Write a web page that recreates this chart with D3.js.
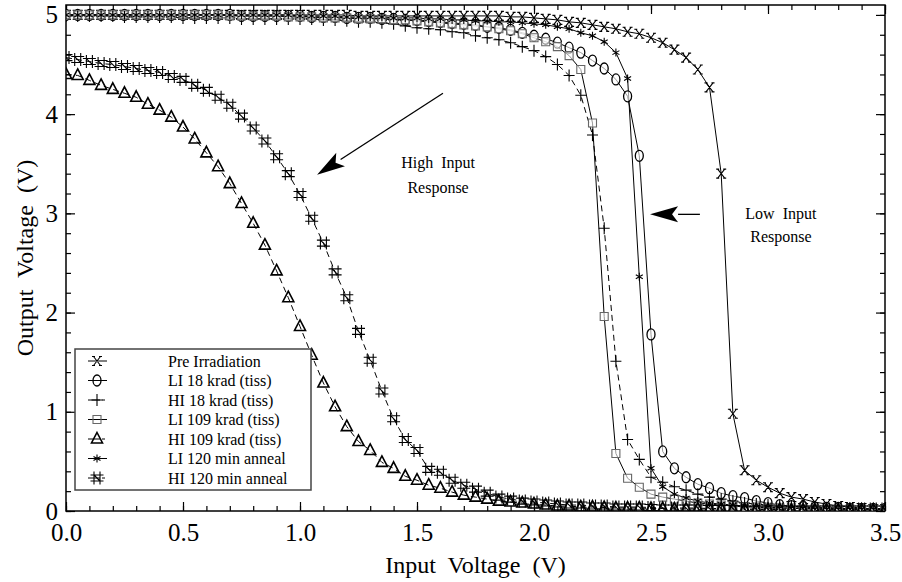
<html lang="en">
<head>
    <meta charset="utf-8">
    <title>Inverter Transfer Curves</title>
    <script src="https://cdn.jsdelivr.net/npm/d3@7"></script>
    <style type="text/css">
        body {
            margin: 0;
            background: #fff;
        }
        svg text {
            font-family: "Liberation Serif", "Times New Roman", serif;
            white-space: pre;
        }
        .axis path,
        .axis line {
            fill: none;
            stroke: #000;
            stroke-width: 1.2px;
        }
    </style>
</head>
<body>
<div id=chart>
    <script type="text/javascript">

        // input voltage sweep (V)
        var inputV = [0.00, 0.05, 0.10, 0.15, 0.20, 0.25, 0.30, 0.35, 0.40, 0.45,
            0.50, 0.55, 0.60, 0.65, 0.70, 0.75, 0.80, 0.85, 0.90, 0.95,
            1.00, 1.05, 1.10, 1.15, 1.20, 1.25, 1.30, 1.35, 1.40, 1.45,
            1.50, 1.55, 1.60, 1.65, 1.70, 1.75, 1.80, 1.85, 1.90, 1.95,
            2.00, 2.05, 2.10, 2.15, 2.20, 2.25, 2.30, 2.35, 2.40, 2.45,
            2.50, 2.55, 2.60, 2.65, 2.70, 2.75, 2.80, 2.85, 2.90, 2.95,
            3.00, 3.05, 3.10, 3.15, 3.20, 3.25, 3.30, 3.35, 3.40, 3.45,
            3.50];

        // output voltage (V) per condition
        var preIrradiation = [5.00, 5.00, 5.00, 5.00, 5.00, 5.00, 5.00, 5.00, 5.00, 5.00,
            5.00, 5.00, 5.00, 5.00, 5.00, 5.00, 5.00, 5.00, 5.00, 5.00,
            5.00, 5.00, 5.00, 5.00, 5.00, 4.99, 4.99, 4.99, 4.99, 4.99,
            4.99, 4.99, 4.99, 4.99, 4.99, 4.99, 4.99, 4.99, 4.98, 4.98,
            4.97, 4.96, 4.95, 4.93, 4.92, 4.90, 4.88, 4.86, 4.83, 4.81,
            4.77, 4.72, 4.65, 4.57, 4.45, 4.27, 3.40, 0.98, 0.41, 0.31,
            0.24, 0.18, 0.14, 0.12, 0.09, 0.07, 0.05, 0.04, 0.03, 0.02,
            0.02];

        var li18 = [5.00, 5.00, 5.00, 5.00, 5.00, 5.00, 5.00, 5.00, 5.00, 5.00,
            5.00, 5.00, 5.00, 5.00, 5.00, 4.99, 4.99, 4.99, 4.99, 4.99,
            4.99, 4.98, 4.98, 4.98, 4.97, 4.97, 4.97, 4.96, 4.96, 4.95,
            4.95, 4.94, 4.93, 4.92, 4.91, 4.90, 4.88, 4.87, 4.85, 4.82,
            4.79, 4.76, 4.72, 4.67, 4.62, 4.54, 4.46, 4.35, 4.18, 3.58,
            1.78, 0.60, 0.43, 0.34, 0.27, 0.23, 0.18, 0.15, 0.13, 0.10,
            0.08, 0.06, 0.05, 0.04, 0.035, 0.03, 0.03, 0.02, 0.02, 0.02,
            0.02];

        var hi18 = [4.99, 4.99, 4.99, 4.99, 4.99, 4.98, 4.98, 4.98, 4.98, 4.98,
            4.97, 4.97, 4.97, 4.97, 4.97, 4.96, 4.96, 4.96, 4.96, 4.96,
            4.96, 4.96, 4.95, 4.95, 4.94, 4.93, 4.93, 4.92, 4.91, 4.89,
            4.87, 4.86, 4.85, 4.83, 4.82, 4.79, 4.77, 4.75, 4.72, 4.68,
            4.64, 4.58, 4.50, 4.39, 4.19, 3.79, 2.85, 1.51, 0.72, 0.52,
            0.34, 0.29, 0.245, 0.21, 0.17, 0.14, 0.12, 0.10, 0.08, 0.07,
            0.06, 0.05, 0.045, 0.04, 0.035, 0.03, 0.03, 0.025, 0.02, 0.02,
            0.02];

        var li109 = [5.00, 5.00, 5.00, 5.00, 5.00, 5.00, 5.00, 5.00, 5.00, 5.00,
            5.00, 5.00, 5.00, 5.00, 4.99, 4.99, 4.99, 4.99, 4.99, 4.98,
            4.98, 4.98, 4.97, 4.97, 4.97, 4.96, 4.96, 4.96, 4.95, 4.95,
            4.94, 4.93, 4.92, 4.91, 4.90, 4.89, 4.88, 4.86, 4.84, 4.81,
            4.77, 4.73, 4.68, 4.59, 4.45, 3.91, 1.96, 0.58, 0.33, 0.24,
            0.17, 0.14, 0.12, 0.10, 0.08, 0.07, 0.06, 0.05, 0.04, 0.04,
            0.03, 0.03, 0.03, 0.02, 0.02, 0.02, 0.02, 0.02, 0.02, 0.02,
            0.02];

        var hi109 = [4.40, 4.39, 4.34, 4.29, 4.25, 4.21, 4.17, 4.10, 4.04, 3.97,
            3.87, 3.75, 3.61, 3.47, 3.30, 3.10, 2.90, 2.68, 2.42, 2.15,
            1.86, 1.57, 1.29, 1.05, 0.85, 0.70, 0.61, 0.49, 0.43, 0.35,
            0.31, 0.26, 0.23, 0.19, 0.16, 0.14, 0.12, 0.10, 0.09, 0.08,
            0.07, 0.06, 0.05, 0.05, 0.04, 0.04, 0.035, 0.03, 0.03, 0.03,
            0.025, 0.025, 0.02, 0.02, 0.02, 0.02, 0.02, 0.015, 0.015, 0.015,
            0.015, 0.015, 0.01, 0.01, 0.01, 0.01, 0.01, 0.01, 0.01, 0.01,
            0.01];

        var li120 = [5.00, 5.00, 5.00, 5.00, 5.00, 5.00, 5.00, 5.00, 5.00, 5.00,
            5.00, 5.00, 5.00, 5.00, 5.00, 5.00, 5.00, 5.00, 5.00, 5.00,
            4.99, 4.99, 4.99, 4.99, 4.98, 4.98, 4.98, 4.98, 4.97, 4.97,
            4.97, 4.96, 4.96, 4.95, 4.95, 4.94, 4.94, 4.93, 4.93, 4.92,
            4.91, 4.90, 4.88, 4.86, 4.82, 4.79, 4.73, 4.62, 4.36, 2.36,
            0.43, 0.245, 0.17, 0.13, 0.10, 0.08, 0.07, 0.06, 0.05, 0.04,
            0.04, 0.03, 0.03, 0.03, 0.02, 0.02, 0.02, 0.02, 0.02, 0.02,
            0.02];

        var hi120 = [4.57, 4.55, 4.53, 4.51, 4.50, 4.48, 4.46, 4.44, 4.42, 4.38,
            4.35, 4.29, 4.24, 4.17, 4.09, 3.98, 3.86, 3.73, 3.57, 3.40,
            3.19, 2.95, 2.70, 2.41, 2.15, 1.81, 1.52, 1.21, 0.93, 0.72,
            0.61, 0.42, 0.39, 0.31, 0.26, 0.22, 0.18, 0.14, 0.12, 0.10,
            0.09, 0.08, 0.07, 0.06, 0.06, 0.05, 0.05, 0.04, 0.04, 0.04,
            0.035, 0.03, 0.03, 0.03, 0.03, 0.025, 0.025, 0.025, 0.02, 0.02,
            0.02, 0.02, 0.02, 0.02, 0.02, 0.02, 0.02, 0.02, 0.02, 0.02,
            0.02];

        var seriesNames = ["Pre Irradiation", "LI 18 krad (tiss)", "HI 18 krad (tiss)",
            "LI 109 krad (tiss)", "HI 109 krad (tiss)", "LI 120 min anneal", "HI 120 min anneal"];

        var xTickLabels = ["0.0", "0.5", "1.0", "1.5", "2.0", "2.5", "3.0", "3.5"];
        var yTickLabels = ["0", "1", "2", "3", "4", "5"];

        var margin = {top: 5, right: 17, bottom: 71, left: 66},
            plotWidth = 819,
            plotHeight = 506,
            width = plotWidth + margin.left + margin.right,
            height = plotHeight + margin.top + margin.bottom;

        var series = [
            {name: seriesNames[0], values: preIrradiation, symbol: "x", dashed: false},
            {name: seriesNames[1], values: li18, symbol: "circle", dashed: false},
            {name: seriesNames[2], values: hi18, symbol: "plus", dashed: true},
            {name: seriesNames[3], values: li109, symbol: "square", dashed: false},
            {name: seriesNames[4], values: hi109, symbol: "triangle", dashed: true},
            {name: seriesNames[5], values: li120, symbol: "star", dashed: false},
            {name: seriesNames[6], values: hi120, symbol: "hash", dashed: true}
        ];

        var xScale = d3.scaleLinear().domain([0, 3.5]).range([0, plotWidth]);
        var yScale = d3.scaleLinear().domain([0, 5.1]).range([plotHeight, 0]);

        var svg = d3.select("#chart").append("svg")
            .attr("width", width)
            .attr("height", height)
            .append("g")
            .attr("transform", "translate(" + margin.left + "," + margin.top + ")");

        svg.append("defs").append("clipPath")
            .attr("id", "plotClip")
            .append("rect")
            .attr("width", plotWidth)
            .attr("height", plotHeight);

        // marker shapes
        function symbolPath(type) {
            switch (type) {
                case "x":
                    return "M-3.5,-4.5L3.5,4.5M3.5,-4.5L-3.5,4.5M-5,-4.5H-2M2,-4.5H5M-5,4.5H-2M2,4.5H5";
                case "circle":
                    return "M0,-5.5A4,5.5 0 1,1 0,5.5A4,5.5 0 1,1 0,-5.5Z";
                case "plus":
                    return "M-5.5,0H5.5M0,-6V6";
                case "square":
                    return "M-4,-4H4V4H-4Z";
                case "triangle":
                    return "M0,-6.5L5.5,4L-5.5,4Z";
                case "star":
                    return "M0,-4V4M-3.5,-2L3.5,2M3.5,-2L-3.5,2";
                case "hash":
                    return "M-3,-6.5V6.5M3,-6.5V6.5M-6.5,-3H6.5M-6.5,3H6.5M-3,-3L3,3";
            }
        }

        function symbolStroke(type) {
            if (type === "square") return "#666";
            return "#000";
        }

        function symbolWidth(type) {
            if (type === "triangle") return 1.6;
            if (type === "circle") return 1.3;
            return 1.1;
        }

        // minor ticks
        svg.append("g")
            .attr("class", "axis minor")
            .attr("transform", "translate(0," + plotHeight + ")")
            .call(d3.axisBottom(xScale).tickValues(d3.range(0, 3.501, 0.1))
                .tickSize(-5).tickSizeOuter(0).tickFormat(""));
        svg.append("g")
            .attr("class", "axis minor")
            .call(d3.axisTop(xScale).tickValues(d3.range(0, 3.501, 0.1))
                .tickSize(-5).tickSizeOuter(0).tickFormat(""));
        svg.append("g")
            .attr("class", "axis minor")
            .call(d3.axisLeft(yScale).tickValues(d3.range(0, 5.001, 0.2))
                .tickSize(-5).tickSizeOuter(0).tickFormat(""));
        svg.append("g")
            .attr("class", "axis minor")
            .attr("transform", "translate(" + plotWidth + ",0)")
            .call(d3.axisRight(yScale).tickValues(d3.range(0, 5.001, 0.2))
                .tickSize(-5).tickSizeOuter(0).tickFormat(""));

        // major ticks with labels
        var xMajor = xTickLabels.map(function (d) { return +d; });
        var yMajor = yTickLabels.map(function (d) { return +d; });

        svg.append("g")
            .attr("class", "axis")
            .attr("transform", "translate(0," + plotHeight + ")")
            .call(d3.axisBottom(xScale).tickValues(xMajor).tickSize(-9).tickSizeOuter(0)
                .tickPadding(12)
                .tickFormat(function (d, i) { return xTickLabels[i]; }))
            .attr("font-family", null)
            .attr("font-size", 25);
        svg.append("g")
            .attr("class", "axis")
            .call(d3.axisTop(xScale).tickValues(xMajor).tickSize(-9).tickSizeOuter(0).tickFormat(""));
        svg.append("g")
            .attr("class", "axis")
            .call(d3.axisLeft(yScale).tickValues(yMajor).tickSize(-9).tickSizeOuter(0)
                .tickPadding(8)
                .tickFormat(function (d, i) { return yTickLabels[i]; }))
            .attr("font-family", null)
            .attr("font-size", 25);
        svg.append("g")
            .attr("class", "axis")
            .attr("transform", "translate(" + plotWidth + ",0)")
            .call(d3.axisRight(yScale).tickValues(yMajor).tickSize(-9).tickSizeOuter(0).tickFormat(""));

        svg.selectAll(".axis .domain").remove();

        svg.append("rect")
            .attr("width", plotWidth)
            .attr("height", plotHeight)
            .style("fill", "none")
            .style("stroke", "#000")
            .style("stroke-width", "1.5px");

        // axis titles
        svg.append("text")
            .attr("x", plotWidth / 2)
            .attr("y", plotHeight + 62)
            .style("text-anchor", "middle")
            .style("font-size", "24px")
            .text("Input  Voltage  (V)");

        svg.append("text")
            .attr("transform", "translate(" + (33 - margin.left) + "," + (plotHeight / 2) + ") rotate(-90)")
            .style("text-anchor", "middle")
            .style("font-size", "24px")
            .text("Output  Voltage  (V)");

        // curves
        var plot = svg.append("g").attr("clip-path", "url(#plotClip)");

        var line = d3.line()
            .x(function (d) { return xScale(d[0]); })
            .y(function (d) { return yScale(d[1]); });

        series.forEach(function (s) {
            var pts = inputV.map(function (v, i) { return [v, s.values[i]]; });
            plot.append("path")
                .datum(pts)
                .attr("d", line)
                .style("fill", "none")
                .style("stroke", "#000")
                .style("stroke-width", "1px")
                .style("stroke-dasharray", s.dashed ? "6,4" : null);
        });

        series.forEach(function (s) {
            var pts = inputV.map(function (v, i) { return [v, s.values[i]]; });
            plot.selectAll(null)
                .data(pts)
                .enter().append("path")
                .attr("transform", function (d) {
                    return "translate(" + xScale(d[0]) + "," + yScale(d[1]) + ")";
                })
                .attr("d", symbolPath(s.symbol))
                .style("fill", s.symbol === "circle" || s.symbol === "square" || s.symbol === "triangle" ? "#fff" : "none")
                .style("fill-opacity", s.symbol === "triangle" ? 0 : 0.6)
                .style("stroke", symbolStroke(s.symbol))
                .style("stroke-width", symbolWidth(s.symbol));
        });

        // annotations
        function arrow(x0, y0, x1, y1) {
            var px0 = xScale(x0), py0 = yScale(y0), px1 = xScale(x1), py1 = yScale(y1);
            var ang = Math.atan2(py1 - py0, px1 - px0);
            var headLen = 28, headW = 8;
            var bx = px1 - headLen * Math.cos(ang), by = py1 - headLen * Math.sin(ang);
            svg.append("line")
                .attr("x1", px0).attr("y1", py0)
                .attr("x2", bx).attr("y2", by)
                .style("stroke", "#000")
                .style("stroke-width", "1.3px");
            svg.append("path")
                .attr("d", "M" + px1 + "," + py1 +
                    "L" + (bx + headW * Math.sin(ang)) + "," + (by - headW * Math.cos(ang)) +
                    "L" + (bx + 6 * Math.cos(ang)) + "," + (by + 6 * Math.sin(ang)) +
                    "L" + (bx - headW * Math.sin(ang)) + "," + (by + headW * Math.cos(ang)) + "Z")
                .style("fill", "#000");
        }

        arrow(1.611, 4.21, 1.073, 3.39);
        arrow(2.709, 2.99, 2.496, 2.99);

        function note(xv, yv, txt) {
            svg.append("text")
                .attr("x", xScale(xv))
                .attr("y", yScale(yv))
                .style("text-anchor", "middle")
                .style("font-size", "16px")
                .text(txt);
        }
        note(1.59, 3.455, "High  Input");
        note(1.59, 3.21, "Response");
        note(3.055, 2.94, "Low  Input");
        note(3.055, 2.71, "Response");

        // legend
        var legend = svg.append("g")
            .attr("transform", "translate(9,344)");

        legend.append("rect")
            .attr("width", 236)
            .attr("height", 141)
            .style("fill", "#fff")
            .style("stroke", "#444")
            .style("stroke-width", "1.5px");

        var rows = legend.selectAll(".row")
            .data(series)
            .enter().append("g")
            .attr("class", "row")
            .attr("transform", function (d, i) {
                return "translate(0," + (12 + i * 19.5) + ")";
            });

        rows.append("line")
            .attr("x1", 13).attr("x2", 32)
            .attr("y1", 0).attr("y2", 0)
            .style("stroke", "#000")
            .style("stroke-width", "1px")
            .style("stroke-dasharray", function (d) { return d.dashed ? "12,2,3" : null; });

        rows.append("path")
            .attr("transform", "translate(22,0)")
            .attr("d", function (d) { return symbolPath(d.symbol); })
            .style("fill", "none")
            .style("stroke", function (d) { return symbolStroke(d.symbol); })
            .style("stroke-width", function (d) { return symbolWidth(d.symbol); });

        rows.append("text")
            .attr("x", 93)
            .attr("y", 5.5)
            .style("font-size", "16px")
            .text(function (d) { return d.name; });

    </script>
</div>
</body>
</html>
